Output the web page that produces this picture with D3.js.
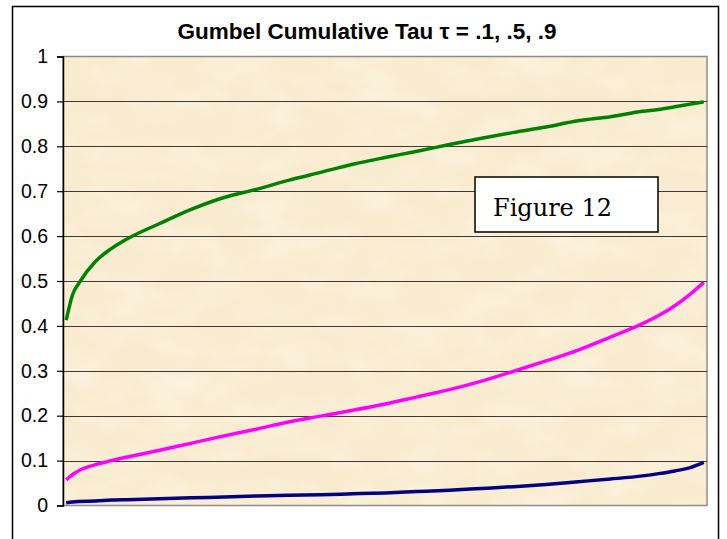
<!DOCTYPE html>
<html>
<head>
<meta charset="utf-8">
<script src="https://cdn.jsdelivr.net/npm/d3@7"></script>
<style>
    body { margin: 0; background: #ffffff; }
    svg { display: block; }
</style>
</head>
<body>
<svg id="chart" width="727" height="539"></svg>
<script>
    // probability grid (x axis has no labels)
    var uValues = [0.005, 0.015, 0.025, 0.05, 0.075, 0.1, 0.15, 0.2, 0.25, 0.3, 0.35, 0.4, 0.45,
        0.5, 0.55, 0.6, 0.65, 0.7, 0.75, 0.8, 0.85, 0.9, 0.925, 0.95, 0.975, 0.995];

    var tau1 = [0.006, 0.008, 0.009, 0.010, 0.012, 0.013, 0.015, 0.017, 0.019, 0.021, 0.023, 0.024, 0.026,
        0.028, 0.031, 0.034, 0.038, 0.042, 0.047, 0.053, 0.059, 0.066, 0.071, 0.077, 0.085, 0.096];

    var tau5 = [0.057, 0.069, 0.078, 0.091, 0.100, 0.108, 0.123, 0.139, 0.155, 0.170, 0.186, 0.199, 0.212,
        0.226, 0.242, 0.258, 0.277, 0.299, 0.322, 0.346, 0.375, 0.405, 0.423, 0.445, 0.472, 0.497];

    var tau9 = [0.413, 0.470, 0.496, 0.543, 0.572, 0.594, 0.628, 0.660, 0.686, 0.704, 0.724, 0.742, 0.760,
        0.775, 0.789, 0.804, 0.818, 0.831, 0.843, 0.857, 0.866, 0.878, 0.882, 0.888, 0.894, 0.899];

    var yTicks = [0, 0.1, 0.2, 0.3, 0.4, 0.5, 0.6, 0.7, 0.8, 0.9, 1];

    var series = [
        {name: "tau .1", values: tau1, color: "#000080"},
        {name: "tau .5", values: tau5, color: "#ff00ff"},
        {name: "tau .9", values: tau9, color: "#008000"}
    ];

    var svg = d3.select("#chart");
    var plot = {left: 63, right: 707, top: 56.5, bottom: 505.5};

    var x = d3.scaleLinear().domain([0, 1]).range([plot.left, plot.right]);
    var y = d3.scaleLinear().domain([0, 1]).range([plot.bottom, plot.top]);

    // outer chart frame
    svg.append("rect")
        .attr("x", 12.5).attr("y", 6.5)
        .attr("width", 706).attr("height", 560)
        .attr("fill", "#ffffff")
        .attr("stroke", "#000000")
        .attr("stroke-width", 1.5);

    // parchment texture for the plot area
    var defs = svg.append("defs");
    var filter = defs.append("filter").attr("id", "paper")
        .attr("x", 0).attr("y", 0).attr("width", 1).attr("height", 1);
    filter.append("feTurbulence")
        .attr("type", "fractalNoise")
        .attr("baseFrequency", "0.02 0.035")
        .attr("numOctaves", 3)
        .attr("seed", 7);
    filter.append("feColorMatrix")
        .attr("type", "matrix")
        .attr("values", "0 0 0 0 1  0 0 0 0 0.98  0 0 0 0 0.94  1.4 0 0 0 -0.55");

    svg.append("rect")
        .attr("x", plot.left).attr("y", plot.top)
        .attr("width", plot.right - plot.left).attr("height", plot.bottom - plot.top)
        .attr("fill", "#f9ebcf");
    svg.append("rect")
        .attr("x", plot.left).attr("y", plot.top)
        .attr("width", plot.right - plot.left).attr("height", plot.bottom - plot.top)
        .attr("filter", "url(#paper)")
        .attr("opacity", 0.55);

    // border of the plot area (right / bottom grey, like Excel)
    svg.append("rect")
        .attr("x", plot.left).attr("y", plot.top)
        .attr("width", plot.right - plot.left).attr("height", plot.bottom - plot.top)
        .attr("fill", "none")
        .attr("stroke", "#8c8c8c")
        .attr("stroke-width", 1.5);

    // gridlines
    svg.append("g")
        .selectAll("line")
        .data(yTicks.filter(function (d) { return d > 0 && d < 1; }))
        .enter().append("line")
        .attr("x1", plot.left).attr("x2", plot.right)
        .attr("y1", function (d) { return Math.round(y(d)) + 0.5; })
        .attr("y2", function (d) { return Math.round(y(d)) + 0.5; })
        .attr("stroke", "#3a3a3a")
        .attr("stroke-width", 1.2);

    // y axis
    var yAxis = d3.axisLeft(y)
        .tickValues(yTicks)
        .tickSize(6)
        .tickPadding(9)
        .tickFormat(function (d) { return d3.format("")(+d.toFixed(1)); });

    var gy = svg.append("g")
        .attr("transform", "translate(" + plot.left + ",0)")
        .call(yAxis);
    gy.select(".domain").attr("stroke", "#000000").attr("stroke-width", 1.5);
    gy.selectAll(".tick line").attr("stroke", "#000000").attr("stroke-width", 1.2);
    gy.selectAll(".tick text")
        .attr("fill", "#000000")
        .style("font-family", "'Liberation Sans', Arial, sans-serif")
        .style("font-size", "19.5px");

    // lines
    var line = d3.line()
        .x(function (d, i) { return x(uValues[i]); })
        .y(function (d) { return y(d); })
        .curve(d3.curveMonotoneX);

    svg.append("g")
        .selectAll("path")
        .data(series)
        .enter().append("path")
        .attr("d", function (d) { return line(d.values); })
        .attr("fill", "none")
        .attr("stroke", function (d) { return d.color; })
        .attr("stroke-width", 3.5)
        .attr("stroke-linejoin", "round");

    // title
    svg.append("text")
        .attr("x", 367).attr("y", 39)
        .attr("text-anchor", "middle")
        .style("font-family", "'Liberation Sans', Arial, sans-serif")
        .style("font-weight", "bold")
        .style("font-size", "22.5px")
        .text("Gumbel Cumulative Tau \u03c4 = .1, .5, .9");

    // figure label box
    svg.append("rect")
        .attr("x", 475).attr("y", 177)
        .attr("width", 183).attr("height", 55)
        .attr("fill", "#ffffff")
        .attr("stroke", "#000000")
        .attr("stroke-width", 1.5);
    svg.append("text")
        .attr("x", 493).attr("y", 216)
        .style("font-family", "'DejaVu Serif', serif")
        .style("font-size", "24px")
        .text("Figure 12");
</script>
</body>
</html>
